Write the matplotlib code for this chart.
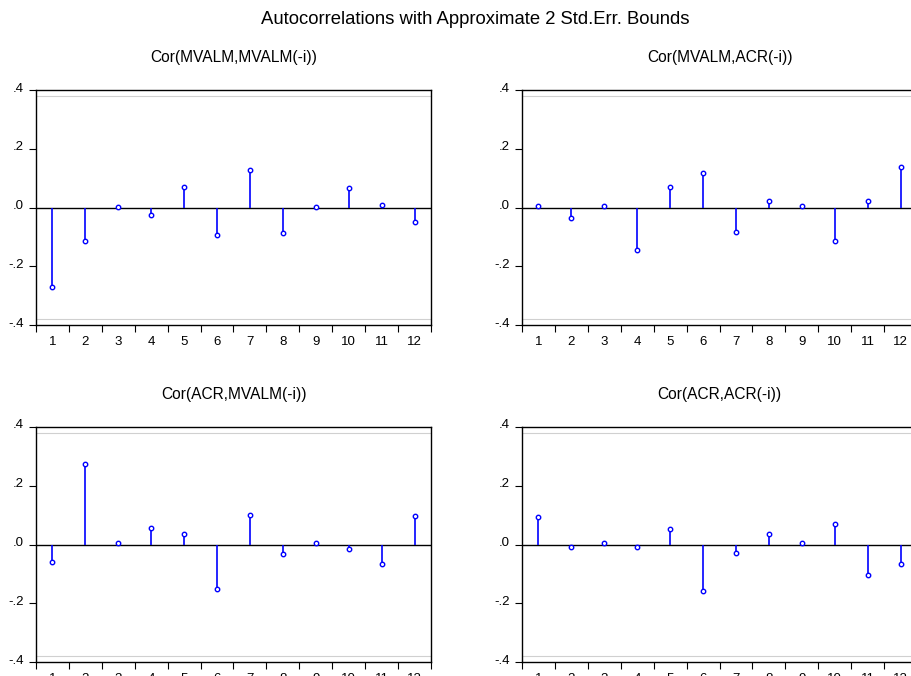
import numpy as np
import matplotlib
matplotlib.use("Agg")
import matplotlib.pyplot as plt
import matplotlib.transforms as mtransforms

plt.rcParams['font.family'] = ['Liberation Sans', 'DejaVu Sans']

lags = list(range(1, 13))
bound = 0.378

titles = ["Cor(MVALM,MVALM(-i))", "Cor(MVALM,ACR(-i))",
          "Cor(ACR,MVALM(-i))", "Cor(ACR,ACR(-i))"]

mvalm_mvalm = [-0.271, -0.114, 0.003, -0.025, 0.069, -0.092,
               0.127, -0.086, 0.003, 0.066, 0.008, -0.049]
mvalm_acr = [0.006, -0.037, 0.005, -0.144, 0.069, 0.116,
             -0.082, 0.021, 0.005, -0.114, 0.021, 0.139]
acr_mvalm = [-0.058, 0.275, 0.005, 0.056, 0.036, -0.150,
             0.101, -0.031, 0.005, -0.014, -0.066, 0.096]
acr_acr = [0.095, -0.007, 0.005, -0.009, 0.052, -0.159,
           -0.028, 0.035, 0.005, 0.069, -0.105, -0.066]

series = [mvalm_mvalm, mvalm_acr, acr_mvalm, acr_acr]

W, H = 911, 676
fig = plt.figure(figsize=(W / 100, H / 100), dpi=100)

# axes boxes in pixels: left, top
boxes = [(36, 90), (522, 90), (36, 427), (522, 427)]
aw, ah = 395, 235

# y tick labels sit a little above their ticks
lift = mtransforms.ScaledTranslation(0, 3 / 100, fig.dpi_scale_trans)

for (left, top), vals, title in zip(boxes, series, titles):
    ax = fig.add_axes([left / W, 1 - (top + ah) / H, aw / W, ah / H])
    ax.set_xlim(0.5, 12.5)
    ax.set_ylim(-0.4, 0.4)

    ax.axhline(bound, color='#d0d0d0', lw=0.8)
    ax.axhline(-bound, color='#d0d0d0', lw=0.8)
    ax.axhline(0, color='black', lw=1.0)

    ax.vlines(lags, 0, vals, color='#0000ff', lw=1.2)
    ax.plot(lags, vals, 'o', ms=3.2, mfc='white', mec='#0000ff', mew=1.0)

    ax.set_xticks(np.arange(0.5, 13, 1))
    ax.set_xticklabels([])
    ax.set_xticks(lags, minor=True)
    ax.set_xticklabels([str(i) for i in lags], minor=True, fontsize=9.5)
    ax.tick_params(axis='x', which='major', direction='out', length=5, width=0.8)
    ax.tick_params(axis='x', which='minor', length=0, pad=8)

    ax.set_yticks([-0.4, -0.2, 0.0, 0.2, 0.4])
    ax.set_yticklabels(['-.4', '-.2', '.0', '.2', '.4'], fontsize=9.5)
    ax.tick_params(axis='y', direction='out', length=5, width=0.8, pad=3.5)
    for lab in ax.get_yticklabels():
        lab.set_transform(lab.get_transform() + lift)

    for sp in ax.spines.values():
        sp.set_linewidth(1.0)

    ax.text(0.5, 1 + 33 / ah, title, transform=ax.transAxes,
            ha='center', va='center', fontsize=11.2)

fig.text(475 / W, 1 - 20 / H, "Autocorrelations with Approximate 2 Std.Err. Bounds",
         ha='center', va='center', fontsize=13.3)

fig.savefig("out.png", dpi=100)
